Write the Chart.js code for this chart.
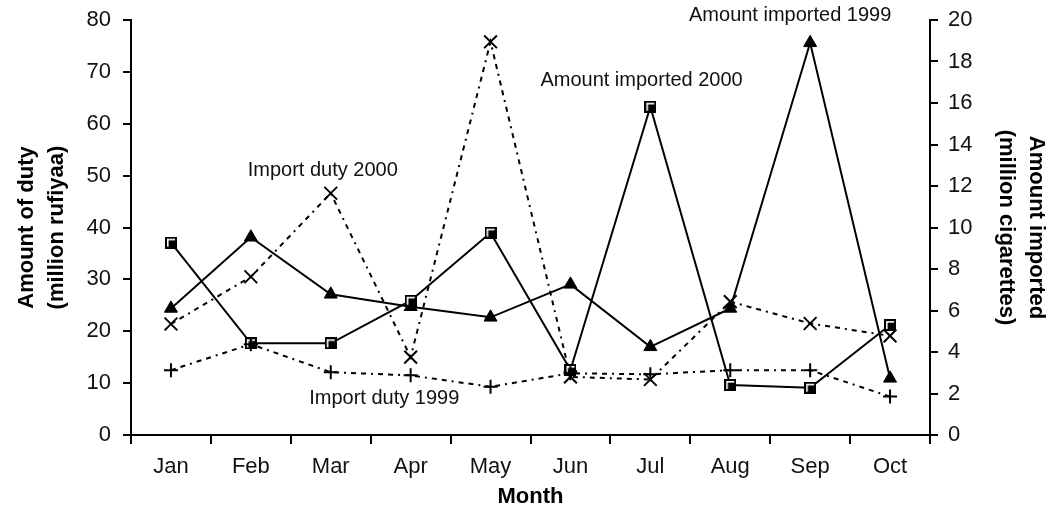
<!DOCTYPE html>
<html>
<head>
<meta charset="utf-8">
<script src="https://cdn.jsdelivr.net/npm/chart.js@4.4.1/dist/chart.umd.min.js"></script>
<style>
  html, body { margin: 0; padding: 0; background: #fff; }
  #wrap { width: 1054px; height: 531px; }
</style>
</head>
<body>
<div id="wrap"><canvas id="chart"></canvas></div>
<script>
const months = ['Jan', 'Feb', 'Mar', 'Apr', 'May', 'Jun', 'Jul', 'Aug', 'Sep', 'Oct'];

// duty in million rufiyaa (left axis)
const importDuty2000 = [21.4, 30.5, 46.6, 15.0, 75.8, 11.2, 10.7, 25.7, 21.5, 19.1];
const importDuty1999 = [12.5, 17.5, 12.1, 11.5, 9.3, 11.9, 11.7, 12.5, 12.5, 7.4];

// amount imported in million cigarettes (right axis)
const imported2000 = [9.27, 4.42, 4.42, 6.47, 9.75, 3.13, 15.82, 2.41, 2.28, 5.3];
const imported1999 = [6.1, 9.53, 6.78, 6.18, 5.67, 7.26, 4.25, 6.1, 18.9, 2.73];

const dutyMax = 80, dutyStep = 10;
const importedMax = 20, importedStep = 2;

// labels written next to the lines (month index, duty value)
const notes = [
  { text: 'Import duty 2000', at: [1.9, 51.0] },
  { text: 'Amount imported 2000', at: [5.89, 68.4] },
  { text: 'Amount imported 1999', at: [7.75, 80.9] },
  { text: 'Import duty 1999', at: [2.67, 7.1] },
];

const FONT = '"Liberation Sans", Arial, sans-serif';
const dotted = [5, 5, 5, 5, 2, 5];

// square marker with the white inner corner
function squareMark() {
  const c = document.createElement('canvas');
  c.width = 12; c.height = 12;
  const g = c.getContext('2d');
  g.fillStyle = '#000';
  g.fillRect(0, 0, 12, 12);
  g.fillStyle = '#fff';
  g.fillRect(2, 2, 8, 1.6);
  g.fillRect(2, 2, 1.6, 8);
  return c;
}

const seriesNotes = {
  id: 'seriesNotes',
  afterDatasetsDraw(chart) {
    const { ctx, scales: { x, yDuty } } = chart;
    ctx.save();
    ctx.font = '20px ' + FONT;
    ctx.fillStyle = '#111';
    ctx.textAlign = 'center';
    ctx.textBaseline = 'middle';
    notes.forEach(n => {
      ctx.fillText(n.text, x.getPixelForValue(n.at[0]), yDuty.getPixelForValue(n.at[1]));
    });
    ctx.restore();
  }
};

function fitY(width) {
  return scale => {
    scale.width = width;
    scale.paddingTop = 0;
    scale.paddingBottom = 0;
  };
}

new Chart(document.getElementById('chart').getContext('2d'), {
  type: 'line',
  data: {
    labels: months,
    datasets: [
      {
        label: 'Import duty 2000',
        data: importDuty2000,
        yAxisID: 'yDuty',
        borderColor: '#000',
        borderWidth: 2,
        borderDash: dotted,
        pointStyle: 'crossRot',
        pointRadius: 9,
        pointBorderWidth: 2,
        pointBorderColor: '#000',
      },
      {
        label: 'Import duty 1999',
        data: importDuty1999,
        yAxisID: 'yDuty',
        borderColor: '#000',
        borderWidth: 2,
        borderDash: dotted,
        pointStyle: 'cross',
        pointRadius: 7,
        pointBorderWidth: 2,
        pointBorderColor: '#000',
      },
      {
        label: 'Amount imported 2000',
        data: imported2000,
        yAxisID: 'yImported',
        borderColor: '#000',
        borderWidth: 2,
        pointStyle: squareMark(),
      },
      {
        label: 'Amount imported 1999',
        data: imported1999,
        yAxisID: 'yImported',
        borderColor: '#000',
        borderWidth: 2,
        pointStyle: 'triangle',
        pointRadius: 7.5,
        pointBackgroundColor: '#000',
        pointBorderColor: '#000',
        pointBorderWidth: 1,
      },
    ]
  },
  options: {
    responsive: true,
    maintainAspectRatio: false,
    animation: false,
    layout: { padding: { top: 20, left: 0, right: 0, bottom: 0 } },
    plugins: {
      legend: { display: false },
      tooltip: { enabled: false },
    },
    elements: { line: { tension: 0, fill: false } },
    scales: {
      x: {
        offset: true,
        grid: { offset: true, drawOnChartArea: false, drawTicks: true, tickLength: 9, color: '#000', lineWidth: 2 },
        border: { color: '#000', width: 2 },
        ticks: { color: '#111', font: { family: FONT, size: 22 }, padding: 10, maxRotation: 0 },
        title: { display: true, text: 'Month', color: '#000', font: { family: FONT, size: 22, weight: 'bold' }, padding: { bottom: 21 } },
        afterFit(scale) {
          scale.height = 96;
          scale.paddingLeft = 0;
          scale.paddingRight = 0;
        },
      },
      yDuty: {
        position: 'left',
        min: 0,
        max: dutyMax,
        ticks: { stepSize: dutyStep, color: '#111', font: { family: FONT, size: 22 }, padding: 12 },
        grid: { drawOnChartArea: false, tickLength: 8, color: '#000', lineWidth: 2 },
        border: { color: '#000', width: 2 },
        title: { display: true, text: ['Amount of duty', '(million rufiyaa)'], color: '#000', font: { family: FONT, size: 22, weight: 'bold', lineHeight: 1.35 }, padding: { top: 12 } },
        afterFit: fitY(131),
      },
      yImported: {
        position: 'right',
        min: 0,
        max: importedMax,
        ticks: { stepSize: importedStep, color: '#111', font: { family: FONT, size: 22 }, padding: 10 },
        grid: { drawOnChartArea: false, tickLength: 8, color: '#000', lineWidth: 2 },
        border: { color: '#000', width: 2 },
        title: { display: true, text: ['Amount imported', '(million cigarettes)'], color: '#000', font: { family: FONT, size: 22, weight: 'bold', lineHeight: 1.35 }, padding: { top: 3 } },
        afterFit: fitY(124),
      },
    }
  },
  plugins: [seriesNotes]
});
</script>
</body>
</html>
